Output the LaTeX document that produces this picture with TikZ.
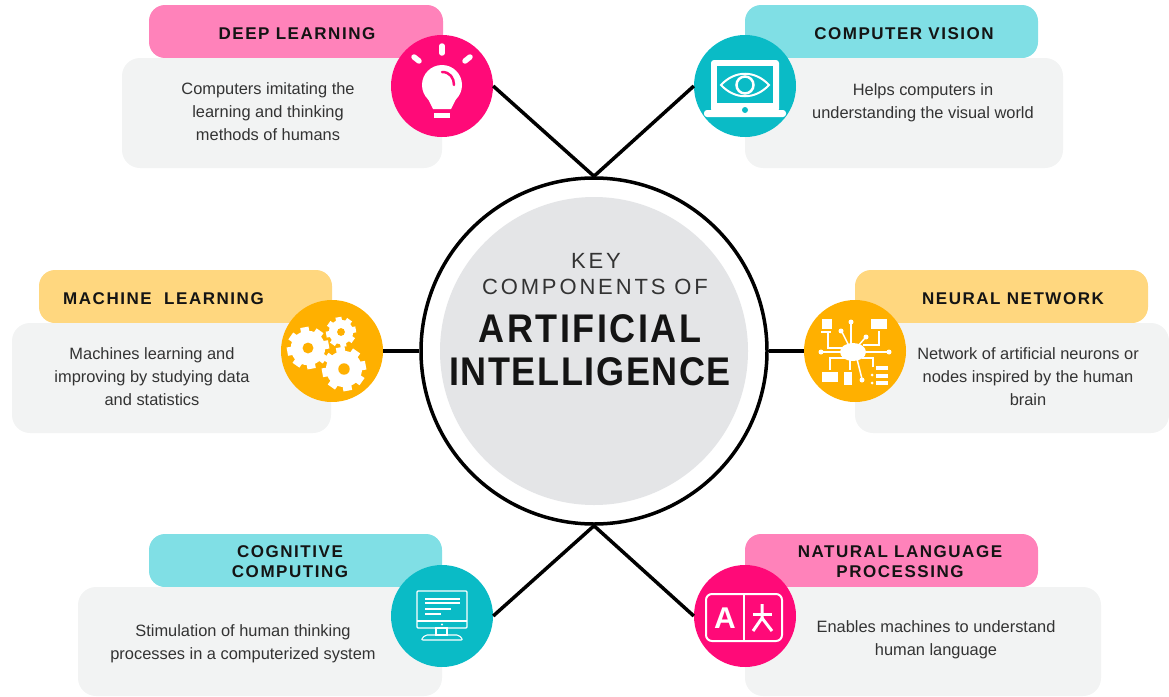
\documentclass[tikz,border=0pt]{standalone}
\usepackage{fontspec}
\usepackage{xcolor}
\usetikzlibrary{calc,positioning}
\setmainfont{Liberation Sans}
\newfontfamily\headfont[LetterSpace=9]{Liberation Sans}
\newfontfamily\keyfont[LetterSpace=13]{Liberation Sans}
\newfontfamily\titlefont[LetterSpace=4.5]{Liberation Sans}
\newfontfamily\artfont[LetterSpace=7]{Liberation Sans}
\definecolor{pinkpill}{HTML}{FF82BA}
\definecolor{pinkdot}{HTML}{FF0A78}
\definecolor{tealpill}{HTML}{80DFE5}
\definecolor{tealdot}{HTML}{0ABBC6}
\definecolor{amberpill}{HTML}{FFD77F}
\definecolor{amberdot}{HTML}{FFB000}
\definecolor{bodygrey}{HTML}{F2F3F3}
\definecolor{coregrey}{HTML}{E4E5E7}
\definecolor{inktext}{HTML}{333333}
\newcommand{\gearicon}[3]{% centre x, centre y, radius
  \fill[white] (#1,#2) circle ({0.82*#3});
  \foreach \a in {0,45,...,315}
    \fill[white,shift={(#1,#2)},rotate=\a+10] ({0.7*#3},{-0.2*#3}) rectangle (#3,{0.2*#3});
  \fill[amberdot] (#1,#2) circle ({0.26*#3});
}
\begin{document}
\begin{tikzpicture}[
  x=1pt,y=-1pt,
  pillbox/.style={rectangle,rounded corners=16pt,minimum height=53pt,inner sep=0pt},
  bodybox/.style={rectangle,rounded corners=18pt,fill=bodygrey,minimum height=110pt,inner sep=0pt},
  icondot/.style={circle,minimum size=102pt,inner sep=0pt},
  head/.style={font=\headfont\fontsize{17}{19.5}\selectfont\bfseries,text=black!92,align=center,inner sep=0pt},
  desc/.style={font=\fontsize{16.4}{23}\selectfont,text=inktext,align=center,inner sep=0pt},
  keytext/.style={font=\keyfont\fontsize{22}{24}\selectfont,text=inktext,inner sep=0pt},
  link/.style={line width=3.5pt,black},
  iconline/.style={white,line width=1.5pt},
  iconthin/.style={white,line width=1.1pt}
]
  \useasboundingbox (0,0) rectangle (1169,696);

  % Header pills
  \node[pillbox,fill=pinkpill,minimum width=294pt]  (DL_pill)  at (296,31.5)    {};
  \node[pillbox,fill=tealpill,minimum width=293pt]  (CV_pill)  at (891.5,31.5)  {};
  \node[pillbox,fill=amberpill,minimum width=293pt] (ML_pill)  at (185.5,296.5) {};
  \node[pillbox,fill=amberpill,minimum width=293pt] (NN_pill)  at (1001.5,296.5) {};
  \node[pillbox,fill=tealpill,minimum width=293pt]  (CC_pill)  at (295.5,560.5) {};
  \node[pillbox,fill=pinkpill,minimum width=293pt]  (NLP_pill) at (891.5,560.5) {};

  % Grey text panels
  \node[bodybox,minimum width=320pt] (DL_body)  at (282,113)    {};
  \node[bodybox,minimum width=318pt] (CV_body)  at (904,113)    {};
  \node[bodybox,minimum width=319pt] (ML_body)  at (171.5,378)  {};
  \node[bodybox,minimum width=314pt] (NN_body)  at (1012,378)   {};
  \node[bodybox,minimum width=364pt,minimum height=109pt] (CC_body)  at (260,641.5) {};
  \node[bodybox,minimum width=356pt,minimum height=109pt] (NLP_body) at (923,641.5) {};

  % Headings
  \node[head] (DL_head)  at (297,33.5)   {DEEP LEARNING};
  \node[head] (CV_head)  at (904,33.5)   {COMPUTER VISION};
  \node[head] (ML_head)  at (163.5,298.5) {MACHINE\ \ LEARNING};
  \node[head] (NN_head)  at (1013,298.5) {NEURAL NETWORK};
  \node[head] (CC_head)  at (290,561.5)  {COGNITIVE\\COMPUTING};
  \node[head] (NLP_head) at (900,561.5)  {NATURAL LANGUAGE\\PROCESSING};

  % Descriptions
  \node[desc] (DL_text)  at (268,112)   {Computers imitating the\\learning and thinking\\methods of humans};
  \node[desc] (CV_text)  at (923,103)   {Helps computers in\\understanding the visual world};
  \node[desc] (ML_text)  at (152,377)   {Machines learning and\\improving by studying data\\and statistics};
  \node[desc] (NN_text)  at (1028,377)  {Network of artificial neurons or\\nodes inspired by the human\\brain};
  \node[desc] (CC_text)  at (243,644)   {Stimulation of human thinking\\processes in a computerized system};
  \node[desc] (NLP_text) at (936,640)   {Enables machines to understand\\human language};

  % Centre ring
  \node[circle,draw=black,line width=3.5pt,fill=white,minimum size=346pt,inner sep=0pt] (core_ring) at (594,351) {};
  \node[circle,fill=coregrey,minimum size=308pt,inner sep=0pt] (core_disc) at (594,351) {};
  \node[keytext] (core_key)  at (596,261) {KEY};
  \node[keytext] (core_comp) at (595,287) {COMPONENTS OF};
  \node[font=\artfont\fontsize{40}{44}\selectfont\bfseries,text=black!92,inner sep=0pt,xscale=0.9,transform shape] (core_art) at (590,329) {ARTIFICIAL};
  \node[font=\titlefont\fontsize{40}{44}\selectfont\bfseries,text=black!92,inner sep=0pt,xscale=0.9,transform shape] (core_int) at (590,372) {INTELLIGENCE};

  % Icon discs
  \node[icondot,fill=pinkdot]  (DL_icon)  at (442,86)  {};
  \node[icondot,fill=tealdot]  (CV_icon)  at (745,86)  {};
  \node[icondot,fill=amberdot] (ML_icon)  at (332,351) {};
  \node[icondot,fill=amberdot] (NN_icon)  at (855,351) {};
  \node[icondot,fill=tealdot]  (CC_icon)  at (442,616) {};
  \node[icondot,fill=pinkdot]  (NLP_icon) at (745,616) {};

  % Connectors
  \draw[link] (core_ring.north) -- (DL_icon.east);
  \draw[link] (core_ring.north) -- (CV_icon.west);
  \draw[link] (core_ring.west)  -- (ML_icon.east);
  \draw[link] (core_ring.east)  -- (NN_icon.west);
  \draw[link] (core_ring.south) -- (CC_icon.east);
  \draw[link] (core_ring.south) -- (NLP_icon.west);

  % Bulb
  \begin{scope}[shift={(DL_icon.center)}]
    \fill[white] (0,-1) circle (20);
    \fill[white] (-15,11) -- (-9,23) -- (9,23) -- (15,11) -- cycle;
    \fill[white] (-8,27) rectangle (8,32);
    \draw[pinkdot,line width=2.5pt,line cap=round] (0,-14) .. controls (8,-14) and (12,-8) .. (12,-1);
    \draw[white,line width=5.5pt,line cap=round] (0,-40) -- (0,-33);
    \draw[white,line width=5.5pt,line cap=round] (-28,-29) -- (-23,-25);
    \draw[white,line width=5.5pt,line cap=round] (28,-29) -- (23,-25);
  \end{scope}

  % Laptop with eye
  \begin{scope}[shift={(CV_icon.center)}]
    \fill[white,rounded corners=3pt] (-34,-26) rectangle (34,26);
    \fill[white,rounded corners=3pt] (-41,24) rectangle (41,31);
    \fill[tealdot] (-28,-20) rectangle (28,17);
    \fill[tealdot] (0,24) circle (3);
    \draw[white,line width=2pt] (-24,-1) .. controls (-10,-16) and (10,-16) .. (24,-1) .. controls (10,14) and (-10,14) .. (-24,-1) -- cycle;
    \draw[white,line width=2.5pt] (0,-1) circle (8.5);
  \end{scope}

  % Gears
  \begin{scope}[shift={(ML_icon.center)}]
    \gearicon{-24}{-3}{21}
    \gearicon{9}{-19}{15}
    \gearicon{12}{18}{22}
  \end{scope}

  % Circuit
  \begin{scope}[shift={(NN_icon.center)}]
    \fill[white] (-2,1) ellipse (13 and 9);
    \draw[iconline] (-27,-18) -- (-27,-3) -- (-10,-3);
    \draw[iconline] (24,-20) -- (24,-6) -- (8,-6);
    \draw[iconline] (-33,1) -- (33,1);
    \draw[iconline] (-4,-28) -- (-4,-5);
    \draw[iconline] (-13,-19) -- (-6,-5);
    \draw[iconline] (10,-13) -- (3,-5);
    \draw[iconline] (-25,19) -- (-25,7) -- (-10,7);
    \draw[iconline] (-5,19) -- (-5,7);
    \draw[iconline] (7,28) -- (2,8);
    \draw[iconline] (18,16) -- (18,7) -- (7,7);
    \fill[white] (-33,-32) rectangle (-23,-22);
    \fill[white] (-34,-20) rectangle (-24,-18);
    \fill[white] (16,-32) rectangle (32,-22);
    \fill[white] (-33,21) rectangle (-17,31);
    \fill[white] (-11,21) rectangle (-3,34);
    \fill[white] (-34,1) circle (2.5);
    \fill[white] (34,1) circle (2.5);
    \fill[white] (-4,-29) circle (2.5);
    \fill[white] (-14,-20) circle (2.5);
    \fill[white] (11,-14) circle (2.5);
    \fill[white] (7,29) circle (2.5);
    \fill[white] (21,15) rectangle (33,19);
    \fill[white] (21,23) rectangle (33,27);
    \fill[white] (21,30) rectangle (33,34);
    \fill[white] (17,24) circle (1.5);
    \fill[white] (17,32) circle (1.5);
  \end{scope}

  % Desktop screen
  \begin{scope}[shift={(CC_icon.center)}]
    \draw[iconthin,rounded corners=1pt] (-25,-25) rectangle (25,12);
    \draw[iconthin] (-25,5) -- (25,5);
    \draw[iconthin] (-17,-17) -- (18,-17);
    \draw[iconthin] (-17,-13) -- (18,-13);
    \draw[iconthin] (-17,-7) -- (9,-7);
    \draw[iconthin] (-17,-2) -- (-1,-2);
    \fill[white] (0,8.5) circle (1.2);
    \draw[iconthin] (-6,12) rectangle (5,19);
    \draw[iconthin,rounded corners=2pt] (-21,24) -- (-17,19) -- (17,19) -- (21,24) -- cycle;
  \end{scope}

  % Translation card
  \begin{scope}[shift={(NLP_icon.center)}]
    \draw[white,line width=2pt,rounded corners=6pt] (-39,-22) rectangle (37,25);
    \draw[white,line width=2pt] (-1.5,-22) -- (-1.5,25);
    \node[font=\fontsize{30}{32}\selectfont\bfseries,text=white,inner sep=0pt] (NLP_a) at (-20,2) {A};
    \draw[white,line width=3pt] (8,-2) -- (27,-2);
    \draw[white,line width=3pt] (17,-12) -- (17,2) -- (8,15);
    \draw[white,line width=3pt] (17,2) -- (27,15);
  \end{scope}
\end{tikzpicture}
\end{document}
